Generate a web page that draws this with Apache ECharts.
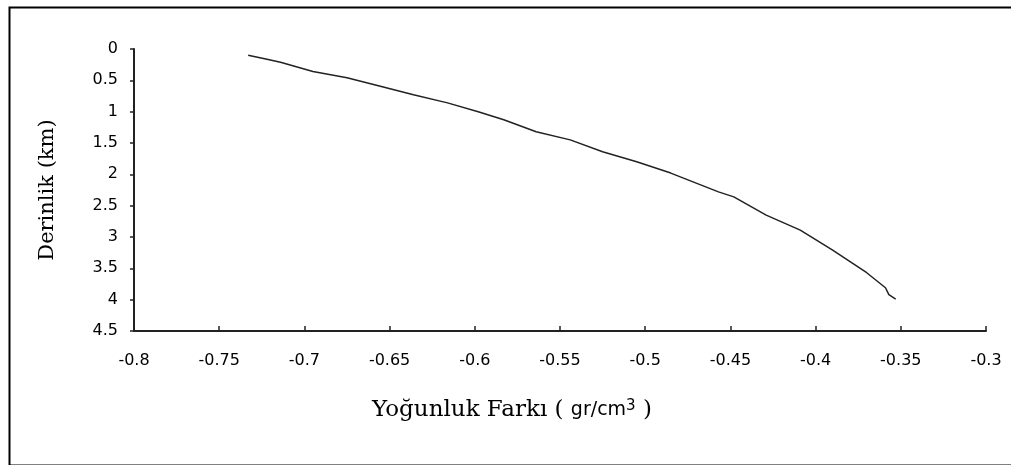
<!DOCTYPE html>
<html lang="tr">
<head>
    <meta charset="UTF-8">
    <script src="https://cdn.jsdelivr.net/npm/echarts@6/dist/echarts.min.js"></script>
    <title>Yoğunluk Farkı - Derinlik</title>
</head>
<body>
<style>
    html, body, #main {
        width: 100%;
        height: 100%;
        margin: 0;
        background: #fff;
    }
</style>
<div id='main'></div>
<script>
    // yoğunluk farkı (gr/cm3) ve derinlik (km)
    var densityDiff = [-0.733, -0.724, -0.714, -0.695, -0.675, -0.656, -0.636, -0.616, -0.598,
        -0.583, -0.564, -0.544, -0.525, -0.505, -0.485, -0.457, -0.448, -0.429,
        -0.409, -0.390, -0.370, -0.359, -0.357, -0.353];
    var depth = [0.10, 0.15, 0.21, 0.36, 0.46, 0.59, 0.73, 0.86, 1.00,
        1.13, 1.32, 1.45, 1.64, 1.80, 1.98, 2.28, 2.36, 2.65,
        2.89, 3.21, 3.57, 3.81, 3.92, 3.99];

    var xMin = -0.8, xMax = -0.3, xStep = 0.05;
    var yMin = 0, yMax = 4.5, yStep = 0.5;

    var points = [];
    for (var i = 0; i < densityDiff.length; i++) {
        points.push([densityDiff[i], depth[i]]);
    }

    var dom = document.getElementById("main");
    var myChart = echarts.init(dom);

    var labelFont = {
        color: '#000',
        fontFamily: 'DejaVu Sans',
        fontSize: 16
    };

    var option = {
        animation: false,
        graphic: [
            {
                // çerçeve (sağ kenar görüntü dışında)
                type: 'rect',
                left: 7,
                top: 5,
                shape: {width: 1030, height: 458},
                style: {fill: 'none', stroke: '#000', lineWidth: 2},
                z: 100
            }
        ],
        grid: {
            left: 134,
            right: 25,
            top: 49,
            bottom: 134
        },
        xAxis: {
            type: 'value',
            position: 'bottom',
            min: xMin,
            max: xMax,
            interval: xStep,
            splitLine: {show: false},
            axisLine: {onZero: false, lineStyle: {color: '#222', width: 2}},
            axisTick: {inside: true, length: 5, lineStyle: {color: '#222', width: 1.5}},
            axisLabel: Object.assign({margin: 22}, labelFont),
            name: '{s|Yoğunluk Farkı ( }{a|gr/cm}{u|3}{s| )}',
            nameLocation: 'middle',
            nameGap: 68,
            nameTextStyle: {
                padding: [0, 96, 0, 0],
                rich: {
                    s: {fontFamily: 'DejaVu Serif', fontSize: 23, color: '#000'},
                    a: {fontFamily: 'DejaVu Sans', fontSize: 19, color: '#000'},
                    u: {fontFamily: 'DejaVu Sans', fontSize: 15, color: '#000', verticalAlign: 'top', padding: [0, 0, 8, 0]}
                }
            }
        },
        yAxis: {
            type: 'value',
            inverse: true,
            min: yMin,
            max: yMax,
            interval: yStep,
            splitLine: {show: false},
            axisLine: {onZero: false, lineStyle: {color: '#222', width: 2}},
            axisTick: {length: 4, lineStyle: {color: '#222', width: 1.5}},
            axisLabel: Object.assign({margin: 16}, labelFont),
            name: 'Derinlik (km)',
            nameLocation: 'middle',
            nameGap: 76,
            nameTextStyle: {
                fontFamily: 'DejaVu Serif',
                fontSize: 21,
                color: '#000'
            }
        },
        series: [
            {
                type: 'line',
                data: points,
                showSymbol: false,
                symbol: 'none',
                lineStyle: {color: '#222', width: 1.5}
            }
        ]
    };

    myChart.setOption(option);
    window.onresize = myChart.resize;
</script>
</body>
</html>
